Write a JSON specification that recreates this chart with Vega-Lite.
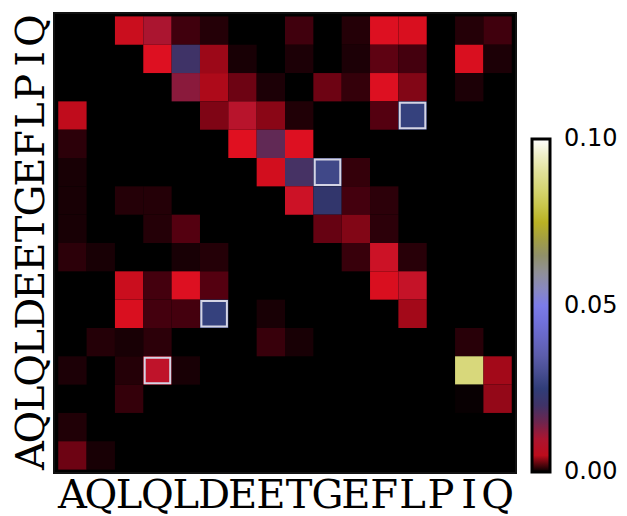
{
  "$schema": "https://vega.github.io/schema/vega-lite/v6.json",
  "width": 462,
  "height": 460,
  "autosize": {"type": "none"},
  "padding": {"left": 54, "top": 13, "right": 111, "bottom": 43},
  "background": "white",
  "config": {
    "view": {"fill": "black", "stroke": "#111111", "strokeWidth": 2},
    "axis": {"grid": false, "domain": false, "ticks": false, "title": null, "labelOverlap": false, "labelFlush": false, "labelBound": false,
      "labelFont": "DejaVu Serif", "labelFontSize": 40, "labelFontWeight": "normal", "labelColor": "black"}
  },
  "data": {"values": [
    {"x":2,"y":15,"v":0.0054},{"x":3,"y":15,"v":0.010},{"x":4,"y":15,"v":0.0016},{"x":5,"y":15,"v":0.0009},{"x":8,"y":15,"v":0.0016},{"x":10,"y":15,"v":0.0009},{"x":11,"y":15,"v":0.0062},{"x":12,"y":15,"v":0.0058},{"x":14,"y":15,"v":0.0009},{"x":15,"y":15,"v":0.0016},
    {"x":3,"y":14,"v":0.0062},{"x":4,"y":14,"v":0.020},{"x":5,"y":14,"v":0.0041},{"x":6,"y":14,"v":0.0006},{"x":8,"y":14,"v":0.0007},{"x":10,"y":14,"v":0.0007},{"x":11,"y":14,"v":0.0024},{"x":12,"y":14,"v":0.0017},{"x":14,"y":14,"v":0.0058},{"x":15,"y":14,"v":0.0007},
    {"x":4,"y":13,"v":0.0125},{"x":5,"y":13,"v":0.0046},{"x":6,"y":13,"v":0.0028},{"x":7,"y":13,"v":0.0007},{"x":9,"y":13,"v":0.0028},{"x":10,"y":13,"v":0.0013},{"x":11,"y":13,"v":0.0062},{"x":12,"y":13,"v":0.0034},{"x":14,"y":13,"v":0.0007},
    {"x":0,"y":12,"v":0.0051},{"x":5,"y":12,"v":0.0033},{"x":6,"y":12,"v":0.009},{"x":7,"y":12,"v":0.0036},{"x":8,"y":12,"v":0.0008},{"x":11,"y":12,"v":0.0021},{"x":12,"y":12,"v":0.026,"hl":true},
    {"x":0,"y":11,"v":0.0011},{"x":6,"y":11,"v":0.006},{"x":7,"y":11,"v":0.016},{"x":8,"y":11,"v":0.0062},
    {"x":0,"y":10,"v":0.0006},{"x":7,"y":10,"v":0.0056},{"x":8,"y":10,"v":0.019},{"x":9,"y":10,"v":0.028,"hl":true},{"x":10,"y":10,"v":0.0013},
    {"x":0,"y":9,"v":0.0006},{"x":2,"y":9,"v":0.0009},{"x":3,"y":9,"v":0.0009},{"x":8,"y":9,"v":0.0075},{"x":9,"y":9,"v":0.022},{"x":10,"y":9,"v":0.0017},{"x":11,"y":9,"v":0.0011},
    {"x":0,"y":8,"v":0.0006},{"x":3,"y":8,"v":0.0009},{"x":4,"y":8,"v":0.0021},{"x":9,"y":8,"v":0.0026},{"x":10,"y":8,"v":0.0034},{"x":11,"y":8,"v":0.0011},
    {"x":0,"y":7,"v":0.0011},{"x":1,"y":7,"v":0.0006},{"x":4,"y":7,"v":0.0006},{"x":5,"y":7,"v":0.0009},{"x":10,"y":7,"v":0.0014},{"x":11,"y":7,"v":0.0075},{"x":12,"y":7,"v":0.0010},
    {"x":2,"y":6,"v":0.0054},{"x":3,"y":6,"v":0.0017},{"x":4,"y":6,"v":0.0062},{"x":5,"y":6,"v":0.0021},{"x":11,"y":6,"v":0.0058},{"x":12,"y":6,"v":0.008},
    {"x":2,"y":5,"v":0.0058},{"x":3,"y":5,"v":0.0017},{"x":4,"y":5,"v":0.0017},{"x":5,"y":5,"v":0.026,"hl":true},{"x":7,"y":5,"v":0.0006},{"x":12,"y":5,"v":0.0043},
    {"x":1,"y":4,"v":0.0009},{"x":2,"y":4,"v":0.0006},{"x":3,"y":4,"v":0.0011},{"x":7,"y":4,"v":0.0014},{"x":8,"y":4,"v":0.0006},{"x":14,"y":4,"v":0.0010},
    {"x":0,"y":3,"v":0.0007},{"x":2,"y":3,"v":0.0009},{"x":3,"y":3,"v":0.0085,"hl":true},{"x":4,"y":3,"v":0.0006},{"x":14,"y":3,"v":0.086},{"x":15,"y":3,"v":0.0043},
    {"x":2,"y":2,"v":0.0013},{"x":14,"y":2,"v":0.0002},{"x":15,"y":2,"v":0.0039},
    {"x":0,"y":1,"v":0.0008},
    {"x":0,"y":0,"v":0.0028},{"x":1,"y":0,"v":0.0006}
  ]},
  "encoding": {
    "x": {"field": "x", "type": "ordinal",
      "scale": {"domain": [0,1,2,3,4,5,6,7,8,9,10,11,12,13,14,15], "paddingInner": 0, "paddingOuter": 0.15},
      "axis": {"orient": "bottom", "labelAngle": 0, "labelPadding": 2, "labelExpr": "substring('AQLQLDEETGEFLPIQ', datum.value, datum.value + 1)"}},
    "y": {"field": "y", "type": "ordinal",
      "scale": {"domain": [15,14,13,12,11,10,9,8,7,6,5,4,3,2,1,0], "paddingInner": 0, "paddingOuter": 0.12},
      "axis": {"orient": "left", "labelAngle": -90, "labelPadding": 3, "labelExpr": "substring('AQLQLDEETGEFLPIQ', datum.value, datum.value + 1)"}}
  },
  "layer": [
    {
      "mark": {"type": "rect"},
      "encoding": {
        "color": {"field": "v", "type": "quantitative",
          "scale": {"type": "linear", "interpolate": "rgb",
            "domain": [0, 0.002, 0.006, 0.012, 0.0175, 0.0235, 0.028, 0.036, 0.049, 0.052, 0.059, 0.066, 0.0745, 0.0825, 0.093, 0.1],
            "range": ["#000000", "#500010", "#e01020", "#901838", "#503060", "#283870", "#404888", "#6060b0", "#7878f0", "#8484d8", "#9090a0", "#909060", "#b8b020", "#d0d060", "#e8e8b0", "#ffffff"]},
          "legend": {"orient": "none", "legendX": 478, "legendY": 126, "title": null, "direction": "vertical",
            "gradientLength": 333, "gradientThickness": 18, "gradientStrokeColor": "black", "gradientStrokeWidth": 3,
            "values": [0, 0.05, 0.1], "format": ".2f", "labelFont": "DejaVu Sans", "labelFontSize": 24, "labelColor": "black",
            "labelOffset": 14, "labelOverlap": false,
            "encode": {"labels": {"update": {"baseline": {"value": "middle"}}}}}}
      }
    },
    {
      "transform": [{"filter": "datum.hl"}],
      "mark": {"type": "rect", "fillOpacity": 0, "stroke": "#d4d4e4", "strokeWidth": 2, "width": {"band": 0.9}, "height": {"band": 0.9}},
      "encoding": {}
    }
  ]
}
